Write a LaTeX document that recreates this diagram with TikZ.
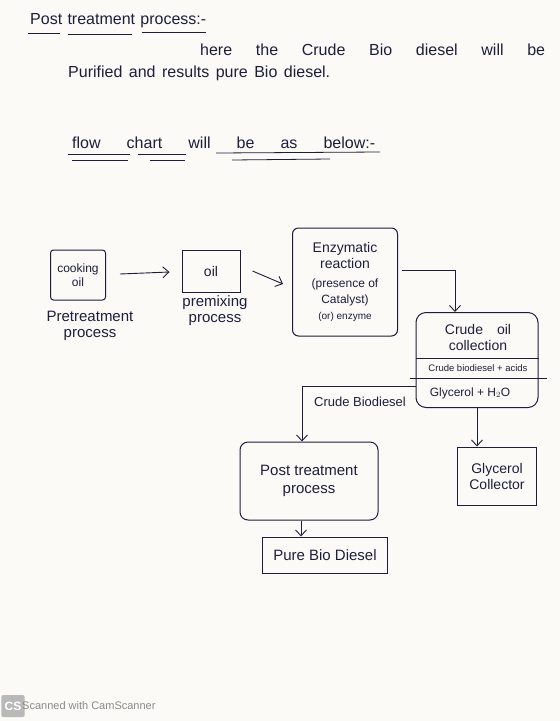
\documentclass[tikz,border=0pt]{standalone}
\usepackage{fontspec}
\setmainfont{Liberation Sans}
\usetikzlibrary{arrows.meta}
\definecolor{ink}{HTML}{1E1E3C}
\definecolor{paper}{HTML}{FBFAF7}
\definecolor{wm}{HTML}{8A8A8A}
\newcommand{\fsA}{\fontsize{12}{14}\selectfont}
\newcommand{\fsB}{\fontsize{10}{11}\selectfont}
\tikzset{
  box/.style={draw=ink, line width=1pt, inner sep=2pt, text=ink, align=center, font=\fontsize{14}{16}\selectfont},
  txt/.style={text=ink, align=center, inner sep=1pt, font=\fontsize{15}{16}\selectfont},
  head/.style={text=ink, inner sep=0pt, anchor=west, font=\fontsize{16}{18}\selectfont},
  arr/.style={draw=ink, line width=0.9pt, -{Straight Barb[length=6pt,width=11pt]}},
  uline/.style={draw=ink, line width=0.8pt}
}
\begin{document}
\begin{tikzpicture}[x=1pt,y=-1pt]
\fill[paper] (0,0) rectangle (560,721);
\useasboundingbox (0,0) rectangle (560,721);

% heading text
\node[head] (title) at (30,21) {\makebox[176pt][s]{Post treatment process:-}};
\draw[uline] (28,33) -- (60,33);
\draw[uline] (68,34) -- (132,34);
\draw[uline] (142,32) -- (206,32);
\node[head] (l1) at (200,50) {\makebox[345pt][s]{here the Crude Bio diesel will be}};
\node[head] (l2) at (68,73) {\makebox[262pt][s]{Purified and results pure Bio diesel.}};
\node[head] (fc) at (72,143) {\makebox[303pt][s]{flow chart will be as below:-}};
\draw[uline] (68,154) -- (130,154);
\draw[uline] (72,160) -- (128,160);
\draw[uline] (138,154) -- (186,154);
\draw[uline] (150,160) -- (185,160);
\draw[uline] (216,153) -- (380,152);
\draw[uline] (232,160) -- (330,159);

% flow chart
\node[box, rounded corners=3pt, minimum width=55pt, minimum height=50pt, font=\fontsize{12}{14}\selectfont] (cook) at (78,275) {cooking\\oil};
\node[txt] (pre) at (90,326) {Pretreatment\\process};
\node[box, minimum width=58pt, minimum height=42pt] (oilb) at (211,271) {oil};
\node[txt] (premix) at (215,311) {premixing\\process};
\node[box, rounded corners=6pt, minimum width=105pt, minimum height=108pt] (enz) at (345,282)
  {Enzymatic\\reaction\\[3pt]\fsA (presence of\\\fsA Catalyst)\\\fsB (or) enzyme};
\node[box, rounded corners=10pt, minimum width=122pt, minimum height=95pt] (crude) at (477,360) {};
\node[txt, font=\fontsize{14}{16}\selectfont] (crt) at (478,337) {Crude\quad oil\\collection};
\node[txt, font=\fontsize{9.5}{10}\selectfont] (r1) at (478,368) {Crude biodiesel + acids};
\node[txt, font=\fontsize{12}{13}\selectfont] (r2) at (470,393) {Glycerol + H$_2$O};
\draw[uline] (crude.west |- 0,358) -- (crude.east |- 0,358);
\draw[uline] ([xshift=-6pt]crude.west |- 0,378) -- ([xshift=8pt]crude.east |- 0,378);

\node[box, rounded corners=8pt, minimum width=138pt, minimum height=78pt, font=\fontsize{15}{18}\selectfont] (post) at (309,481) {Post treatment\\process};
\node[box, minimum width=125pt, minimum height=36pt, font=\fontsize{15}{18}\selectfont] (pure) at (325,555) {Pure Bio Diesel};
\node[box, minimum width=79pt, minimum height=58pt] (glyc) at (497,476) {Glycerol\\Collector};
\node[txt, font=\fontsize{13}{15}\selectfont] (cbl) at (360,402) {Crude Biodiesel};

\draw[arr] ([xshift=14pt,yshift=1pt]cook.east) -- ([xshift=-12pt,yshift=-1pt]oilb.west);
\draw[arr] ([xshift=12pt]oilb.east) -- ([xshift=-9pt,yshift=-2pt]enz.west);
\draw[arr] ([xshift=4pt]enz.east |- 0,270) -| ([xshift=-22pt]crude.north);
\draw[arr] (crude.west |- 0,386) -| ([xshift=-7pt]post.north);
\draw[arr] ([xshift=-8pt]post.south) -- ([xshift=-8pt]post.south |- pure.north);
\draw[arr] (crude.south) -- (crude.south |- glyc.north);

% watermark
\node[fill=wm!60, rounded corners=2pt, minimum width=22pt, minimum height=22pt, text=white, font=\fontsize{12}{12}\bfseries] (cs) at (13,706) {CS};
\node[anchor=west, text=wm, inner sep=0pt, font=\fontsize{11}{13}\selectfont] (scan) at (22,706) {Scanned with CamScanner};
\end{tikzpicture}
\end{document}
